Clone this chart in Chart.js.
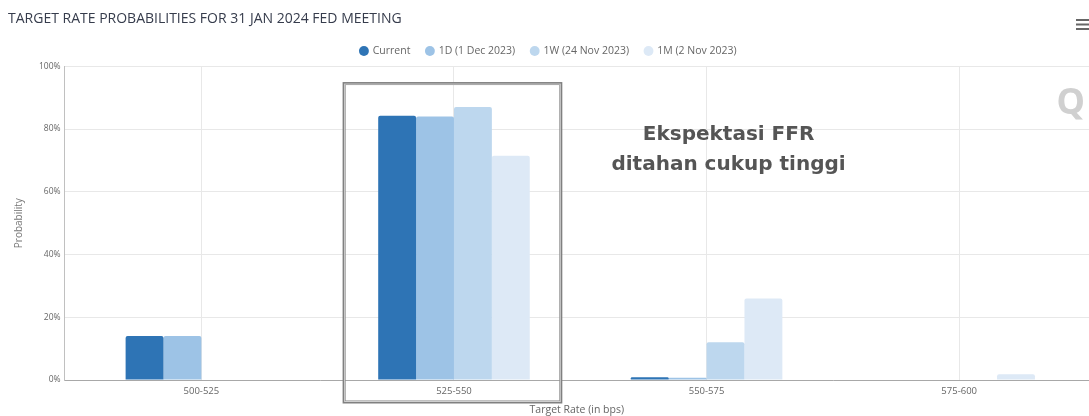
<!DOCTYPE html>
<html>
<head>
<meta charset="utf-8">
<script src="https://cdn.jsdelivr.net/npm/chart.js@4.4.1/dist/chart.umd.min.js"></script>
<style>
  html, body { margin: 0; padding: 0; background: #fff; }
  #wrap { width: 1089px; height: 416px; position: relative; }
</style>
</head>
<body>
<div id="wrap"><canvas id="fedChart"></canvas></div>
<script>
// Target rate buckets (bps) and probabilities (%)
const rateBuckets = ['500-525', '525-550', '550-575', '575-600'];
const currentProb = [14.0, 84.2, 0.9, 0];
const oneDayProb = [14.0, 84.0, 0.7, 0];
const oneWeekProb = [0, 87.0, 12.0, 0];
const oneMonthProb = [0, 71.5, 26.0, 1.8];
const yTicks = [0, 20, 40, 60, 80, 100];

const seriesDefs = [
  { label: 'Current', data: currentProb, color: '#2e74b5' },
  { label: '1D (1 Dec 2023)', data: oneDayProb, color: '#9dc3e6' },
  { label: '1W (24 Nov 2023)', data: oneWeekProb, color: '#bdd7ee' },
  { label: '1M (2 Nov 2023)', data: oneMonthProb, color: '#dde9f6' },
];

// highlight box around the 525-550 group, callout text, logo and menu icon
const overlayPlugin = {
  id: 'overlay',
  afterDraw(chart) {
    const { ctx, scales: { x, y } } = chart;
    ctx.save();

    const left = x.getPixelForValue(0.565);
    const right = x.getPixelForValue(1.423);
    const top = y.getPixelForValue(94.5);
    const bottom = y.bottom + 22;
    ctx.strokeStyle = '#808080';
    ctx.lineWidth = 3;
    ctx.strokeRect(left, top, right - left, bottom - top);
    ctx.strokeStyle = '#cfcfcf';
    ctx.lineWidth = 1;
    ctx.strokeRect(left + 0.5, top + 0.5, right - left - 1, bottom - top - 1);

    ctx.fillStyle = '#555';
    ctx.font = 'bold 20px "DejaVu Sans", sans-serif';
    ctx.textAlign = 'center';
    ctx.textBaseline = 'middle';
    const cx = x.getPixelForValue(2.087);
    ctx.fillText('Ekspektasi FFR', cx, 135);
    ctx.fillText('ditahan cukup tinggi', cx, 165);

    ctx.fillStyle = '#d0d0d0';
    ctx.font = 'bold 36px "Noto Sans", sans-serif';
    ctx.textAlign = 'right';
    ctx.fillText('Q', 1085, 104);

    ctx.fillStyle = '#666';
    [20, 24.5, 29].forEach(yy => ctx.fillRect(1076, yy - 1, 13, 2));
    ctx.restore();
  }
};

const ctx = document.getElementById('fedChart');

new Chart(ctx, {
  type: 'bar',
  data: {
    datasets: seriesDefs.map(s => ({
      label: s.label,
      data: s.data.map((v, i) => ({ x: i, y: v })),
      backgroundColor: s.color,
      borderWidth: 0,
      borderRadius: { topLeft: 2, topRight: 2 },
      borderSkipped: 'bottom',
      categoryPercentage: 0.6,
      barPercentage: 1.0,
    }))
  },
  options: {
    responsive: true,
    maintainAspectRatio: false,
    animation: false,
    layout: { padding: { left: 8, right: 0, top: 0, bottom: 0 } },
    plugins: {
      title: {
        display: true,
        text: 'TARGET RATE PROBABILITIES FOR 31 JAN 2024 FED MEETING',
        align: 'start',
        color: '#363c4c',
        font: { family: '"Open Sans", sans-serif', size: 14, weight: 'normal' },
        padding: { top: 11, bottom: 2 }
      },
      legend: {
        display: true,
        position: 'top',
        labels: {
          usePointStyle: true,
          pointStyle: 'circle',
          boxWidth: 7,
          boxHeight: 7,
          padding: 16,
          color: '#666',
          font: { family: '"Open Sans", sans-serif', size: 10.5 }
        }
      },
      tooltip: { enabled: false }
    },
    scales: {
      x: {
        type: 'linear',
        offset: false,
        min: -0.5415,
        max: 3.514,
        grid: { color: '#e8e8e8', drawTicks: false, offset: false },
        border: { color: '#a8a8a8' },
        ticks: {
          stepSize: 1,
          includeBounds: false,
          autoSkip: false,
          maxRotation: 0,
          padding: 6,
          color: '#666',
          font: { family: '"Open Sans", sans-serif', size: 9.5 },
          callback: (val) => rateBuckets[val] ?? ''
        },
        title: {
          display: true,
          text: 'Target Rate (in bps)',
          color: '#666',
          font: { family: '"Open Sans", sans-serif', size: 10.5 },
          padding: { top: 0, bottom: 0 }
        }
      },
      y: {
        min: 0,
        max: 100,
        afterBuildTicks: (axis) => { axis.ticks = yTicks.map(v => ({ value: v })); },
        grid: { color: '#e8e8e8', drawTicks: false },
        border: { color: '#c0c0c0' },
        ticks: {
          padding: 4,
          color: '#666',
          font: { family: '"Open Sans", sans-serif', size: 8.5 },
          callback: (val) => val + '%'
        },
        title: {
          display: true,
          text: 'Probability',
          color: '#777',
          font: { family: '"Open Sans", sans-serif', size: 10 },
          padding: { top: 5, bottom: 10 }
        }
      }
    }
  },
  plugins: [overlayPlugin]
});
</script>
</body>
</html>
